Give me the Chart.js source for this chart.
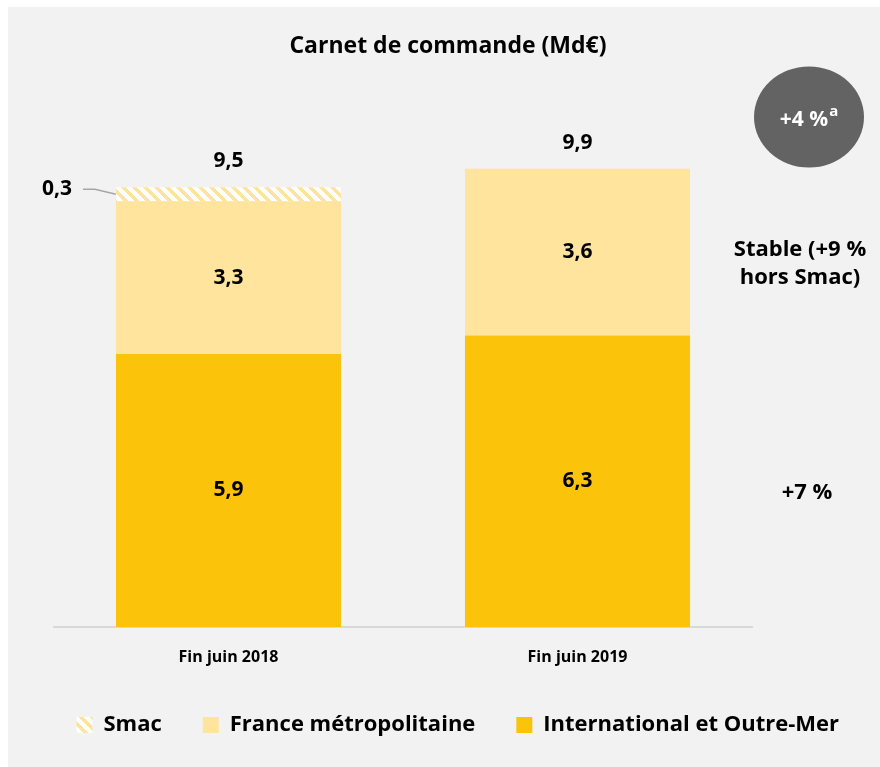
<!doctype html>
<html lang="fr">
  <head>
    <meta charset="utf-8">
    <title>Carnet de commande</title>
    <style>
      * {
        margin: 0;
        padding: 0;
      }
      body {
        background: #fff;
      }
      .chartBox {
        width: 880px;
        height: 767px;
      }
    </style>
  </head>
  <body>
    <div class="chartBox">
      <canvas id="myChart" width="880" height="767"></canvas>
    </div>
    <script src="https://cdn.jsdelivr.net/npm/chart.js/dist/chart.umd.min.js"></script>
    <script>
    // data
    const periodes = ['Fin juin 2018', 'Fin juin 2019'];
    const international = [5.9, 6.3];
    const france = [3.3, 3.6];
    const smac = [0.3, 0];
    const evolutions = [
      { lines: ['Stable (+9 %', 'hors Smac)'], x: 800, y: 250 },
      { lines: ['+7 %'], x: 807, y: 493 }
    ];
    const badge = '+4 %';
    const badgeNote = 'a';

    const fmt = v => v.toFixed(1).replace('.', ',');
    const FONT = "'Open Sans', sans-serif";

    Chart.defaults.font.family = FONT;
    Chart.defaults.color = '#000';

    const canvas = document.getElementById('myChart');
    const mainCtx = canvas.getContext('2d');

    // hatch pattern for Smac
    const stripes = (() => {
      const c = document.createElement('canvas');
      c.width = c.height = 11;
      const g = c.getContext('2d');
      g.fillStyle = '#ffffff';
      g.fillRect(0, 0, 11, 11);
      g.fillStyle = '#fde49c';
      for (let y = 0; y < 11; y++) {
        for (let x = 0; x < 11; x++) {
          if ((((x - y) % 11) + 11) % 11 < 5) g.fillRect(x, y, 1, 1);
        }
      }
      return mainCtx.createPattern(c, 'repeat');
    })();

    // grey panel behind everything
    const panel = {
      id: 'panel',
      beforeDraw(chart) {
        const { ctx, width, height } = chart;
        ctx.save();
        ctx.fillStyle = '#f2f2f2';
        ctx.fillRect(8, 7, width - 8, height - 7);
        ctx.restore();
      }
    };

    // values inside / above the bars + side notes
    const labels = {
      id: 'labels',
      afterDatasetsDraw(chart) {
        const { ctx, scales: { y } } = chart;
        ctx.save();
        ctx.font = 'bold 21px ' + FONT;
        ctx.fillStyle = '#000';
        ctx.textAlign = 'center';
        ctx.textBaseline = 'middle';

        [0, 1].forEach(di => {
          chart.getDatasetMeta(di).data.forEach((bar, i) => {
            const v = chart.data.datasets[di].data[i];
            ctx.fillText(fmt(v), bar.x, (bar.y + bar.base) / 2);
          });
        });

        chart.getDatasetMeta(2).data.forEach((bar, i) => {
          const v = smac[i];
          if (!v) return;
          const left = bar.x - bar.width / 2;
          const mid = (bar.y + bar.base) / 2;
          ctx.strokeStyle = '#a6a6a6';
          ctx.lineWidth = 1.5;
          ctx.beginPath();
          ctx.moveTo(left - 33, mid - 5);
          ctx.lineTo(left - 21, mid - 5);
          ctx.lineTo(left, mid);
          ctx.stroke();
          ctx.fillText(fmt(v), left - 59, mid - 5);
        });

        chart.getDatasetMeta(0).data.forEach((bar, i) => {
          const total = international[i] + france[i] + smac[i];
          ctx.fillText(fmt(total), bar.x, y.getPixelForValue(total) - 26);
        });

        // notes on the right
        ctx.font = 'bold 22px ' + FONT;
        evolutions.forEach(n => {
          n.lines.forEach((t, k) => ctx.fillText(t, n.x, n.y + k * 28));
        });

        // badge
        ctx.fillStyle = '#636363';
        ctx.beginPath();
        ctx.ellipse(809, 117, 55, 50.5, 0, 0, Math.PI * 2);
        ctx.fill();
        ctx.fillStyle = '#fff';
        ctx.textAlign = 'left';
        ctx.font = 'bold 21px ' + FONT;
        const w = ctx.measureText(badge).width;
        ctx.font = 'bold 15px ' + FONT;
        const wa = ctx.measureText(badgeNote).width;
        const x0 = 809 - (w + wa + 1) / 2;
        ctx.font = 'bold 21px ' + FONT;
        ctx.fillText(badge, x0, 120);
        ctx.font = 'bold 15px ' + FONT;
        ctx.fillText(badgeNote, x0 + w + 1, 112);
        ctx.restore();
      }
    };

    // setup
    const data = {
      labels: periodes,
      datasets: [
        { label: 'International et Outre-Mer', data: international, backgroundColor: '#fcc30b' },
        { label: 'France métropolitaine', data: france, backgroundColor: '#fee49d' },
        { label: 'Smac', data: smac, backgroundColor: stripes }
      ]
    };

    // config
    const config = {
      type: 'bar',
      data,
      options: {
        responsive: false,
        animation: false,
        events: [],
        datasets: {
          bar: { categoryPercentage: 0.645, barPercentage: 1 }
        },
        layout: { padding: { left: 16, right: 0, top: 0, bottom: 21 } },
        scales: {
          x: {
            stacked: true,
            grid: { display: false, drawTicks: false },
            border: { color: '#d9d9d9', width: 2 },
            ticks: { padding: 21, color: '#000', font: { size: 16, weight: 'bold' } },
            afterFit: s => { s.height = 46; }
          },
          y: {
            stacked: true,
            min: 0,
            max: 12,
            grid: { display: false },
            border: { display: false },
            ticks: { display: false },
            afterFit: s => { s.width = 38; }
          },
          y2: {
            position: 'right',
            grid: { display: false },
            border: { display: false },
            ticks: { display: false },
            afterFit: s => { s.width = 128; }
          }
        },
        plugins: {
          title: {
            display: true,
            text: 'Carnet de commande (Md€)',
            color: '#000',
            font: { size: 23, weight: 'bold' },
            padding: { top: 33, bottom: 11 }
          },
          legend: {
            position: 'bottom',
            align: 'end',
            reverse: true,
            labels: {
              boxWidth: 16,
              boxHeight: 16,
              padding: 41,
              color: '#000',
              font: { size: 22, weight: 'bold' }
            }
          },
          tooltip: { enabled: false }
        }
      },
      plugins: [panel, labels]
    };

    // render init block
    const myChart = new Chart(canvas, config);
    </script>
  </body>
</html>
